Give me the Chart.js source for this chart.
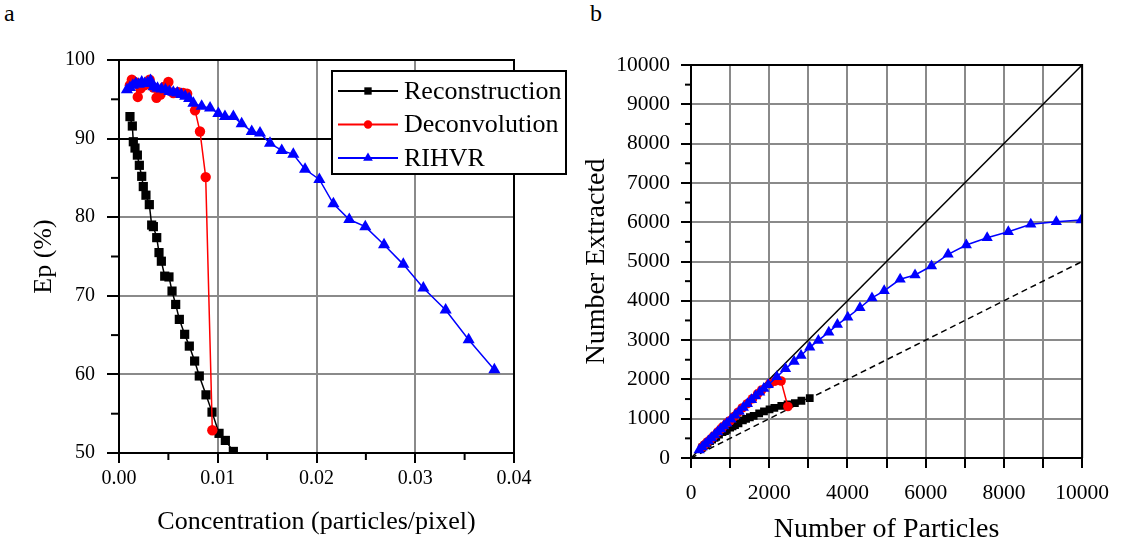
<!DOCTYPE html>
<html>
<head>
<meta charset="utf-8">
<script src="https://cdn.jsdelivr.net/npm/chart.js@4.4.1/dist/chart.umd.min.js"></script>
<style>
  body { margin: 0; background: #fff; width: 1121px; height: 546px; position: relative; overflow: hidden; font-family: 'Liberation Serif', serif; }
  .panel { position: absolute; top: 0; }
  .tag { position: absolute; top: 0; font-size: 24px; color: #000; }
</style>
</head>
<body>
<div class="tag" style="left:4px">a</div>
<div class="tag" style="left:590px">b</div>
<canvas id="chartA" class="panel" width="580" height="546" style="left:0"></canvas>
<canvas id="chartB" class="panel" width="541" height="546" style="left:580px"></canvas>
<script>
// panel a: Ep (%) vs concentration (particles/pixel)
const recConc = [0.00111, 0.00135, 0.00145, 0.00162, 0.00186, 0.00206, 0.0023, 0.00246, 0.00273, 0.00307, 0.00331, 0.00348, 0.00382, 0.00405, 0.00429, 0.00463, 0.00506, 0.00537, 0.00574, 0.00611, 0.00665, 0.00712, 0.00766, 0.00813, 0.00881, 0.00942, 0.01013, 0.01077, 0.01158]
const recEp = [92.8, 91.6, 89.6, 88.8, 87.9, 86.6, 85.2, 83.9, 82.8, 81.6, 79.0, 78.8, 77.4, 75.5, 74.4, 72.5, 72.4, 70.6, 68.9, 67.0, 65.1, 63.6, 61.7, 59.8, 57.4, 55.2, 52.5, 51.6, 50.2]

const decConc = [0.0011, 0.0013, 0.0016, 0.0019, 0.0022, 0.0026, 0.0029, 0.0031, 0.0035, 0.0038, 0.0042, 0.0046, 0.005, 0.0055, 0.006, 0.0065, 0.0069, 0.0077, 0.0082, 0.00878, 0.00945]
const decEp = [96.8, 97.5, 97.2, 95.3, 96.4, 96.8, 97.0, 97.5, 96.5, 95.2, 95.6, 96.6, 97.2, 95.8, 95.9, 95.8, 95.7, 93.6, 90.9, 85.1, 52.9]

const rihConc = [0.0008, 0.0011, 0.0014, 0.0017, 0.002, 0.0023, 0.0026, 0.0029, 0.0032, 0.0035, 0.0039, 0.0043, 0.0047, 0.0051, 0.0055, 0.0059, 0.0063, 0.0067, 0.0071, 0.00753, 0.00837, 0.00922, 0.01006, 0.01073, 0.01158, 0.01242, 0.01344, 0.01428, 0.01529, 0.01648, 0.01765, 0.01884, 0.02029, 0.02171, 0.02332, 0.02494, 0.02684, 0.02879, 0.03082, 0.03308, 0.03541, 0.03801]
const rihEp = [96.2, 96.5, 96.8, 97.0, 96.9, 97.2, 97.0, 97.1, 97.4, 96.6, 96.4, 96.3, 96.2, 96.0, 95.9, 95.8, 95.6, 95.4, 95.1, 94.5, 94.1, 93.9, 93.2, 92.8, 92.8, 91.9, 90.9, 90.7, 89.4, 88.5, 88.0, 86.1, 84.8, 81.7, 79.7, 78.8, 76.5, 74.0, 71.0, 68.2, 64.4, 60.6]

// panel b: number extracted vs number of particles
const recN = [291, 354, 380, 425, 488, 540, 603, 645, 716, 805, 868, 912, 1001, 1062, 1125, 1214, 1326, 1408, 1505, 1602, 1743, 1866, 2008, 2131, 2309, 2469, 2656, 2823, 3036]
const recFound = [270, 324, 340, 377, 429, 468, 514, 541, 593, 657, 686, 719, 775, 802, 837, 880, 960, 994, 1037, 1073, 1135, 1187, 1239, 1274, 1325, 1363, 1394, 1457, 1524]

const decN = [288, 341, 419, 498, 577, 682, 760, 813, 917, 996, 1101, 1206, 1311, 1442, 1573, 1704, 1809, 2019, 2150, 2302, 2477]
const decFound = [279, 332, 408, 475, 556, 660, 737, 793, 885, 948, 1053, 1165, 1274, 1381, 1508, 1632, 1731, 1890, 1954, 1959, 1310]

const rihN = [210, 288, 367, 446, 524, 603, 682, 760, 839, 917, 1022, 1127, 1232, 1337, 1442, 1547, 1652, 1756, 1861, 1974, 2194, 2417, 2637, 2813, 3036, 3256, 3523, 3743, 4008, 4320, 4627, 4939, 5347, 5728, 6150, 6574, 7039, 7572, 8113, 8688, 9340, 9975]
const rihFound = [202, 278, 355, 433, 508, 586, 662, 738, 817, 886, 985, 1085, 1185, 1284, 1383, 1482, 1579, 1675, 1770, 1865, 2065, 2270, 2458, 2610, 2817, 2992, 3202, 3395, 3583, 3823, 4072, 4253, 4547, 4657, 4885, 5183, 5420, 5606, 5758, 5946, 6013, 6056]

const refN = [0, 10000]
const refAll = [0, 10000]
const refHalf = [0, 5000]

const seriesNames = ['Reconstruction', 'Deconvolution', 'RIHVR']

const serif = 'Liberation Serif'
const pts = (xs, ys) => xs.map((x, i) => ({ x, y: ys[i] }))

function series(label, color, style, radius, data, order) {
  return {
    label,
    data,
    borderColor: color,
    backgroundColor: color,
    borderWidth: 1.5,
    pointStyle: style,
    pointRadius: radius,
    pointBorderWidth: 0,
    pointHoverRadius: radius,
    tension: 0,
    order,
  }
}

// short tick marks between the labelled ones
const minorTicks = (specs) => ({
  id: 'minorTicks',
  afterDraw(chart) {
    const ctx = chart.ctx
    ctx.save()
    ctx.strokeStyle = '#000'
    ctx.lineWidth = 2
    specs.forEach(({ id, step, len }) => {
      const s = chart.scales[id]
      for (let v = s.min + step / 2; v < s.max; v += step) {
        const p = s.getPixelForValue(v)
        ctx.beginPath()
        if (s.isHorizontal()) {
          ctx.moveTo(p, chart.chartArea.bottom)
          ctx.lineTo(p, chart.chartArea.bottom + len)
        } else {
          ctx.moveTo(chart.chartArea.left, p)
          ctx.lineTo(chart.chartArea.left - len, p)
        }
        ctx.stroke()
      }
    })
    ctx.restore()
  },
})

const frame = {
  id: 'frame',
  afterDatasetsDraw(chart) {
    const { left, top, right, bottom } = chart.chartArea
    const ctx = chart.ctx
    ctx.save()
    ctx.strokeStyle = '#000'
    ctx.lineWidth = 2
    ctx.beginPath()
    ctx.moveTo(left, top)
    ctx.lineTo(right, top)
    ctx.lineTo(right, bottom)
    ctx.stroke()
    ctx.restore()
  },
}

// boxed legend that sits over the top right of panel a
const boxLegend = {
  id: 'boxLegend',
  afterDraw(chart) {
    const ctx = chart.ctx
    const box = { x: 332, y: 71, w: 234, h: 103 }
    ctx.save()
    ctx.fillStyle = '#fff'
    ctx.fillRect(box.x, box.y, box.w, box.h)
    ctx.strokeStyle = '#000'
    ctx.lineWidth = 2
    ctx.strokeRect(box.x, box.y, box.w, box.h)
    chart.data.datasets.forEach((ds, i) => {
      const y = box.y + 20 + i * 33.5
      ctx.strokeStyle = ds.borderColor
      ctx.lineWidth = 2
      ctx.beginPath()
      ctx.moveTo(box.x + 6, y)
      ctx.lineTo(box.x + 66, y)
      ctx.stroke()
      ctx.fillStyle = ds.backgroundColor
      Chart.helpers.drawPoint(ctx, { pointStyle: ds.pointStyle, radius: ds.pointRadius * 0.8, rotation: 0, borderWidth: 0 }, box.x + 36, y)
      ctx.fillStyle = '#000'
      ctx.font = '26px ' + serif
      ctx.textBaseline = 'middle'
      ctx.fillText(ds.label, box.x + 72, y + 1)
    })
    ctx.restore()
  },
}

const tickFontA = { family: serif, size: 20 }
const tickFontB = { family: serif, size: 21.5 }
const titleFontA = { family: serif, size: 26 }
const titleFontB = { family: serif, size: 28 }

new Chart(document.getElementById('chartA'), {
  type: 'line',
  data: {
    datasets: [
      series(seriesNames[0], '#000', 'rect', 6.5, pts(recConc, recEp), 3),
      series(seriesNames[1], '#ff0000', 'circle', 5.2, pts(decConc, decEp), 2),
      series(seriesNames[2], '#0000ff', 'triangle', 7, pts(rihConc, rihEp), 1),
    ],
  },
  options: {
    responsive: false,
    animation: false,
    devicePixelRatio: 1,
    layout: { padding: { left: 0, top: 60, right: 66, bottom: 0 } },
    plugins: { legend: { display: false }, tooltip: { enabled: false } },
    scales: {
      x: {
        type: 'linear',
        min: 0,
        max: 0.04,
        afterFit: (s) => { s.height = 93 },
        ticks: { stepSize: 0.01, color: '#000', font: tickFontA, padding: 4, maxRotation: 0, callback: (v) => v.toFixed(2) },
        grid: { color: '#8a8a8a', lineWidth: 2, tickColor: '#000', tickLength: 10, tickWidth: 2 },
        border: { color: '#000', width: 2 },
        title: { display: true, text: 'Concentration (particles/pixel)', color: '#000', font: titleFontA, padding: { bottom: 8 } },
      },
      y: {
        min: 50,
        max: 100,
        afterFit: (s) => { s.width = 119 },
        ticks: { stepSize: 10, color: '#000', font: tickFontA, padding: 12 },
        grid: {
          color: (c) => (c.tick && (c.tick.value === 90 || c.tick.value === 100) ? '#000' : '#8a8a8a'),
          lineWidth: 2, tickColor: '#000', tickLength: 12, tickWidth: 2,
        },
        border: { color: '#000', width: 2 },
        title: { display: true, text: 'Ep (%)', color: '#000', font: titleFontA, padding: { top: 29 } },
      },
    },
  },
  plugins: [frame, minorTicks([{ id: 'x', step: 0.01, len: 7 }, { id: 'y', step: 10, len: 8 }]), boxLegend],
})

new Chart(document.getElementById('chartB'), {
  type: 'line',
  data: {
    datasets: [
      series(seriesNames[0], '#000', 'rect', 5.5, pts(recN, recFound), 3),
      series(seriesNames[1], '#ff0000', 'circle', 4.8, pts(decN, decFound), 2),
      series(seriesNames[2], '#0000ff', 'triangle', 6.5, pts(rihN, rihFound), 1),
      { data: pts(refN, refAll), borderColor: '#000', borderWidth: 1.5, pointRadius: 0, order: 10 },
      { data: pts(refN, refHalf), borderColor: '#000', borderWidth: 1.5, borderDash: [6, 4], pointRadius: 0, order: 10 },
    ],
  },
  options: {
    responsive: false,
    animation: false,
    devicePixelRatio: 1,
    layout: { padding: { left: 0, top: 65, right: 36, bottom: 0 } },
    plugins: { legend: { display: false }, tooltip: { enabled: false } },
    scales: {
      x: {
        type: 'linear',
        min: 0,
        max: 10000,
        afterFit: (s) => { s.height = 88 },
        ticks: { stepSize: 1000, autoSkip: false, color: '#000', font: tickFontB, padding: 12, maxRotation: 0, callback: (v) => (v % 2000 === 0 ? String(v) : '') },
        grid: { color: '#8a8a8a', lineWidth: 2, tickColor: '#000', tickLength: 10, tickWidth: 2 },
        border: { color: '#000', width: 2 },
        title: { display: true, text: 'Number of Particles', color: '#000', font: titleFontB, padding: { bottom: 0 } },
      },
      y: {
        min: 0,
        max: 10000,
        afterFit: (s) => { s.width = 111 },
        ticks: { stepSize: 1000, autoSkip: false, color: '#000', font: tickFontB, padding: 11, callback: (v) => String(v) },
        grid: { color: '#8a8a8a', lineWidth: 2, tickColor: '#000', tickLength: 10, tickWidth: 2 },
        border: { color: '#000', width: 2 },
        title: { display: true, text: 'Number Extracted', color: '#000', font: titleFontB, padding: { top: 0 } },
      },
    },
  },
  plugins: [frame, minorTicks([{ id: 'y', step: 1000, len: 6 }])],
})
</script>
</body>
</html>
